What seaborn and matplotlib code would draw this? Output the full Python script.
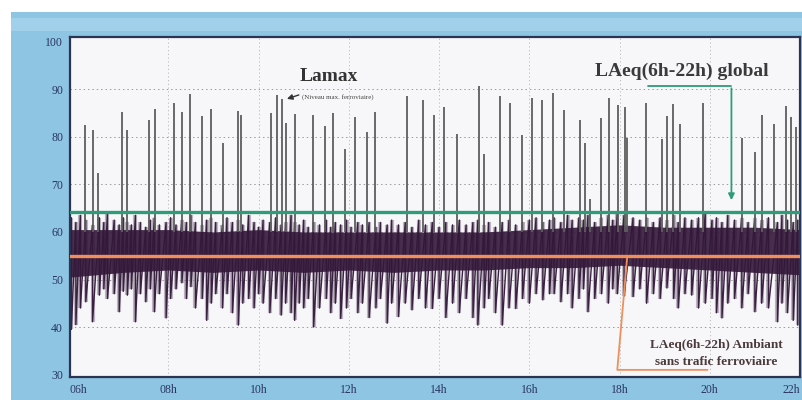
import numpy as np
import pandas as pd
import matplotlib
matplotlib.use("Agg")
import matplotlib.pyplot as plt
import seaborn as sns
from matplotlib.patches import Rectangle

# ---------------- data ----------------
hour_ticks = [6, 8, 10, 12, 14, 16, 18, 20, 22]
hour_labels = ["06h", "08h", "10h", "12h", "14h", "16h", "18h", "20h", "22h"]
db_ticks = [30, 40, 50, 60, 70, 80, 90, 100]

laeq_global = 64.2      # LAeq(6h-22h) global
laeq_ambiant = 55.0     # LAeq(6h-22h) ambiant sans trafic ferroviaire

# Lamax peaks (train passages): time (h) and level (dB)
peak_t = [6.15, 6.33, 6.44, 6.97, 7.09, 7.56, 7.71, 8.13, 8.31, 8.49,
          8.74, 8.95, 9.21, 9.54, 9.62, 10.28, 10.40, 10.51, 10.61, 10.81,
          11.21, 11.48, 11.65, 11.91, 12.14, 12.40, 12.58, 13.28, 13.64, 13.88,
          14.10, 14.40, 14.88, 15.00, 15.35, 15.58, 15.83, 16.06, 16.28, 16.53,
          16.76, 17.13, 17.24, 17.35, 17.59, 17.76, 17.96, 18.13, 18.17, 18.59,
          18.94, 19.05, 19.18, 19.35, 19.86, 20.71, 21.01, 21.16, 21.42, 21.68,
          21.79, 21.92]
peak_v = [82.5, 81.5, 72.5, 85.2, 81.5, 83.6, 85.8, 87.2, 85.2, 89.0,
          84.4, 85.8, 78.8, 85.5, 84.5, 85.0, 88.8, 88.0, 83.0, 84.8,
          84.6, 82.2, 85.0, 77.5, 84.2, 81.1, 85.2, 88.5, 87.8, 84.6,
          86.2, 80.6, 90.8, 76.4, 88.6, 87.2, 80.4, 88.2, 87.8, 89.2,
          85.7, 83.6, 78.7, 67.0, 84.0, 88.2, 86.7, 86.2, 79.7, 87.2,
          79.6, 84.3, 87.0, 82.8, 87.2, 79.8, 76.8, 84.6, 82.7, 86.5,
          84.2, 82.0]

# background noise excursions: time (h), minimum and maximum level (dB)
dip_t = [5.85, 5.95, 6.05, 6.17, 6.32, 6.47, 6.57, 6.65, 6.80, 6.91,
         7.00, 7.09, 7.18, 7.27, 7.38, 7.50, 7.60, 7.69, 7.80, 7.95,
         8.05, 8.17, 8.30, 8.40, 8.50, 8.60, 8.75, 8.85, 8.95, 9.05,
         9.20, 9.30, 9.42, 9.55, 9.65, 9.78, 9.90, 10.00, 10.10, 10.25,
         10.38, 10.50, 10.60, 10.72, 10.80, 10.90, 11.00, 11.10, 11.22, 11.35,
         11.50, 11.60, 11.70, 11.82, 11.95, 12.05, 12.20, 12.30, 12.45, 12.60,
         12.70, 12.85, 12.95, 13.10, 13.25, 13.40, 13.55, 13.70, 13.85, 14.00,
         14.15, 14.30, 14.45, 14.60, 14.75, 14.86, 15.00, 15.10, 15.25, 15.40,
         15.55, 15.70, 15.85, 16.00, 16.15, 16.30, 16.45, 16.55, 16.70, 16.85,
         16.95, 17.10, 17.20, 17.30, 17.45, 17.60, 17.75, 17.85, 17.95, 18.10,
         18.30, 18.45, 18.60, 18.75, 18.90, 19.05, 19.20, 19.30, 19.45, 19.60,
         19.75, 19.90, 20.05, 20.15, 20.27, 20.40, 20.55, 20.71, 20.85, 21.00,
         21.15, 21.30, 21.50, 21.60, 21.72, 21.85, 21.95]
dip_lo = [39.5, 40.5, 44.0, 45.3, 41.1, 46.7, 48.0, 46.0, 47.0, 43.2,
          47.5, 46.7, 48.0, 41.1, 47.0, 45.3, 48.0, 43.2, 47.0, 41.9,
          46.0, 48.0, 49.3, 46.0, 48.5, 44.0, 46.0, 41.4, 45.0, 47.0,
          44.0, 47.0, 43.0, 40.4, 45.0, 46.0, 44.0, 47.0, 45.0, 43.0,
          46.0, 42.5, 45.0, 43.0, 41.4, 45.0, 44.0, 46.0, 40.0, 44.0,
          46.0, 43.0, 45.0, 41.8, 44.0, 46.0, 43.0, 45.0, 42.0, 44.0,
          46.0, 40.8, 45.0, 42.2, 45.0, 43.6, 46.0, 44.0, 43.9, 46.0,
          42.0, 45.0, 43.0, 46.0, 42.0, 40.4, 44.0, 46.0, 43.0, 40.4,
          44.0, 43.9, 46.0, 45.0, 47.0, 45.7, 47.0, 47.0, 45.3, 47.0,
          44.0, 46.0, 48.0, 43.2, 46.0, 47.0, 45.0, 48.0, 47.0, 46.5,
          46.4, 48.0, 45.0, 47.0, 46.0, 48.2, 46.0, 44.0, 47.0, 46.7,
          44.0, 45.0, 46.0, 43.0, 41.9, 45.0, 46.0, 44.0, 47.0, 43.2,
          45.0, 44.0, 41.1, 45.0, 43.0, 41.4, 40.4]
dip_hi = [63.0, 62.0, 63.5, 62.5, 61.5, 63.0, 62.0, 64.0, 62.5, 61.5,
          63.0, 62.0, 61.5, 63.5, 62.0, 61.0, 62.5, 63.0, 61.5, 62.0,
          63.0, 61.5, 62.5, 62.0, 63.5, 62.0, 61.5, 62.5, 63.0, 62.0,
          61.5, 63.0, 62.0, 62.5, 61.5, 63.5, 62.0, 61.0, 62.5, 62.0,
          63.0, 61.5, 62.0, 63.5, 62.0, 61.5, 62.5, 61.0, 62.0, 61.5,
          62.5, 61.0, 62.0, 61.5, 62.5, 61.0, 62.0, 61.5, 62.0, 61.0,
          62.0, 61.5, 62.5, 61.5, 62.0, 61.0, 62.5, 61.5, 62.0, 61.0,
          62.0, 61.5, 62.5, 61.5, 62.0, 62.5, 61.5, 62.0, 61.0, 62.0,
          62.5, 61.5, 62.0, 62.5, 63.0, 62.0, 62.5, 63.0, 62.0, 63.5,
          62.5, 63.0, 62.5, 63.5, 62.0, 63.0, 63.5, 62.5, 64.0, 63.5,
          63.0, 62.5, 63.0, 62.0, 63.0, 62.5, 63.5, 62.0, 63.0, 62.5,
          63.0, 64.0, 62.5, 63.0, 62.0, 63.5, 62.5, 63.0, 62.0, 63.0,
          62.5, 63.0, 62.0, 63.5, 62.5, 62.0, 62.5]

# dense core of the background noise band
core_t = [5.82, 7, 8, 9, 10, 11, 12, 13, 14, 15, 16, 17, 18, 19, 20, 21, 22]
core_lo = [50.5, 51.5, 52.0, 51.5, 52.0, 51.5, 52.0, 51.5, 52.0, 52.0,
           52.5, 52.5, 53.0, 52.5, 52.0, 51.5, 51.0]
core_hi = [60.5, 60.5, 60.5, 60.0, 60.5, 60.0, 60.0, 60.0, 60.0, 60.0,
           60.5, 61.0, 61.5, 61.0, 61.0, 61.0, 60.5]

# ---------------- style ----------------
sns.set_theme(style="white")
plt.rcParams["font.family"] = ["Liberation Serif", "DejaVu Serif"]

BLUE = "#8ec5e2"
NAVY = "#2b3452"
GREEN = "#2f9b78"
ORANGE = "#f08f5c"
CORE = "#34183a"
FRINGE_LIGHT = "#8d7d92"
FRINGE_DARK = "#3a2141"
SPIKE = "#5e5e5e"

W, H = 803, 400
fig = plt.figure(figsize=(W / 100, H / 100), dpi=100, facecolor=BLUE)
fig.patches.append(Rectangle((0, 1 - 12 / H), 1, 12 / H, transform=fig.transFigure,
                             facecolor="white", edgecolor="none", zorder=0))
fig.patches.append(Rectangle((0, 0), 11 / W, 1, transform=fig.transFigure,
                             facecolor="white", edgecolor="none", zorder=0))
fig.patches.append(Rectangle((11 / W, 1 - 31 / H), 1, 13 / H, transform=fig.transFigure,
                             facecolor="#a0d0ea", edgecolor="none", zorder=0))

ax = fig.add_axes([70 / W, 23 / H, 730 / W, 340 / H])
ax.set_facecolor("#f7f7f9")
ax.set_xlim(5.82, 22.0)
ax.set_ylim(29.5, 101)

# dotted grid
for v in range(40, 100, 10):
    ax.axhline(v, color="#9a9a9a", lw=0.7, ls=(0, (1.5, 3)), zorder=1)
for h in hour_ticks[1:-1]:
    ax.axvline(h, color="#b5b5b5", lw=0.6, ls=(0, (1.5, 3)), zorder=1)

# background noise band: light halo, sawtooth trace through the excursions, dense core
ax.vlines(dip_t, dip_lo, dip_hi, color=FRINGE_LIGHT, lw=3.0, alpha=0.55, zorder=2)
trace = pd.DataFrame({
    "t": np.repeat(dip_t, 2),
    "v": np.column_stack([dip_hi, dip_lo]).ravel(),
    "o": np.arange(2 * len(dip_t)),
})
sns.lineplot(data=trace, x="t", y="v", sort=False, estimator=None,
             color=FRINGE_DARK, lw=1.0, ax=ax, zorder=2)
ax.fill_between(core_t, core_lo, core_hi, color=CORE, lw=0, alpha=0.9, zorder=2)

# train peaks
ax.vlines(peak_t, 60, peak_v, color=SPIKE, lw=1.3, zorder=3)

# LAeq levels
lines_df = pd.DataFrame({
    "t": [5.82, 22.0, 5.82, 22.0],
    "v": [laeq_global, laeq_global, laeq_ambiant, laeq_ambiant],
    "k": ["global", "global", "ambiant", "ambiant"],
})
sns.lineplot(data=lines_df, x="t", y="v", hue="k",
             palette={"global": GREEN, "ambiant": ORANGE},
             lw=2.4, legend=False, ax=ax, zorder=4)

# annotations
ax.text(10.92, 92.6, "Lamax", fontsize=14, fontweight="bold", color="#333333",
        va="center", ha="left", zorder=5)
ax.text(10.97, 88.4, "(Niveau max. ferroviaire)", fontsize=5, color="#444444",
        va="center", ha="left", zorder=5)
ax.annotate("", xy=(10.57, 87.8), xytext=(10.95, 89.0),
            arrowprops=dict(arrowstyle="-|>", color="#333333", lw=1.0, mutation_scale=8),
            zorder=5)

ax.text(19.37, 93.7, "LAeq(6h-22h) global", fontsize=14, fontweight="bold",
        color="#3a3a3a", va="center", ha="center", zorder=5)
ax.plot([18.64, 20.48], [90.7, 90.7], color=GREEN, lw=1.3, zorder=5)
ax.annotate("", xy=(20.48, 66.1), xytext=(20.48, 90.8),
            arrowprops=dict(arrowstyle="-|>", color=GREEN, lw=1.3, mutation_scale=9),
            zorder=5)

ax.plot([18.17, 17.95, 19.95], [54.7, 31.0, 31.0], color=ORANGE, lw=1.3, zorder=5)
ax.text(20.15, 36.2, "LAeq(6h-22h) Ambiant", fontsize=9.5, fontweight="bold",
        color="#4a3a3a", va="center", ha="center", zorder=5)
ax.text(20.15, 32.6, "sans trafic ferroviaire", fontsize=9.5, fontweight="bold",
        color="#4a3a3a", va="center", ha="center", zorder=5)

# axes
ax.set_xticks(hour_ticks)
ax.set_xticklabels(hour_labels)
ax.set_yticks(db_ticks)
ax.set_yticklabels([str(v) for v in db_ticks])
ax.set_xlabel("")
ax.set_ylabel("")
ax.tick_params(axis="both", direction="out", length=3, width=1, color=NAVY,
               labelcolor="#2a3560", labelsize=8.5, pad=2)
ax.get_xticklabels()[-1].set_horizontalalignment("right")
for s in ax.spines.values():
    s.set_visible(True)
    s.set_color(NAVY)
    s.set_linewidth(1.6)

fig.savefig("out.png", dpi=100, facecolor=fig.get_facecolor())
